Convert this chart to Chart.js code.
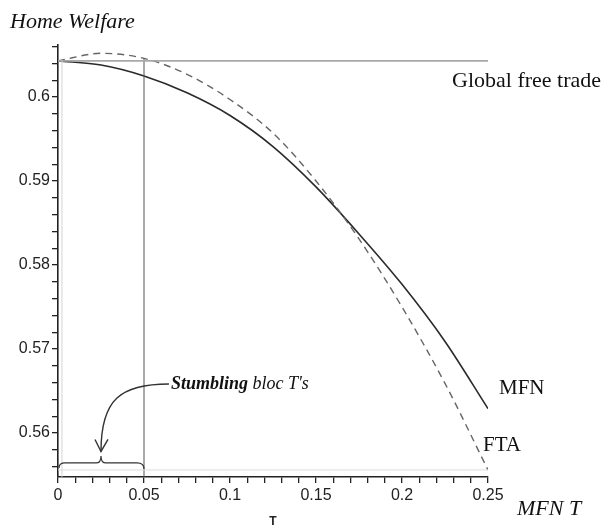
<!DOCTYPE html>
<html>
<head>
<meta charset="utf-8">
<script src="https://cdn.jsdelivr.net/npm/chart.js@4"></script>
<style>
  body { margin: 0; background: #fff; }
</style>
</head>
<body>
<canvas id="welfareChart" width="606" height="529"></canvas>
<script>
// data
const tValues     = [0, 0.025, 0.05, 0.075, 0.1, 0.125, 0.15, 0.175, 0.2, 0.225, 0.25];
const mfnWelfare  = [0.6043, 0.6038, 0.6025, 0.6005, 0.5978, 0.5941, 0.5893, 0.5837, 0.5777, 0.5709, 0.5629];
const ftaWelfare  = [0.6043, 0.6052, 0.6046, 0.6027, 0.5997, 0.5957, 0.5900, 0.5831, 0.5750, 0.5659, 0.5556];
const freeTradeWelfare = 0.6043;
const stumblingBound = 0.05;

const xTicks = [];
for (let i = 0; i <= 25; i++) xTicks.push(i / 100);
const yTicks = [];
for (let i = 278; i <= 303; i++) yTicks.push(i / 500);

const yMin = 0.55476, yMax = 0.60619;

function pts(xs, ys) {
    return xs.map((x, i) => ({x: x, y: ys[i]}));
}

// labels, brace and arrow
const notes = {
    id: 'notes',
    afterDraw(chart) {
        const c = chart.ctx;
        const xs = chart.scales.x, ys = chart.scales.y;
        c.save();
        c.fillStyle = '#111';
        c.font = 'italic 22px "Liberation Serif"';
        c.fillText('Home Welfare', 10, 28);
        c.font = '22px "Liberation Serif"';
        c.fillText('Global free trade', 452, 87);
        c.font = '21px "Liberation Serif"';
        c.fillText('MFN', 499, 394);
        c.fillText('FTA', 483, 451);
        c.font = 'italic 22px "Liberation Serif"';
        c.fillText('MFN T', 517, 515);

        // brace under the stumbling bloc range
        const x0 = xs.getPixelForValue(0);
        const x1 = xs.getPixelForValue(stumblingBound);
        const xm = (x0 + x1) / 2;
        const yb = ys.getPixelForValue(0.55643);
        c.strokeStyle = '#333';
        c.lineWidth = 1.2;
        c.beginPath();
        c.moveTo(x0 + 1, yb + 5);
        c.quadraticCurveTo(x0 + 1, yb, x0 + 7, yb);
        c.lineTo(xm - 5, yb);
        c.quadraticCurveTo(xm, yb, xm, yb - 7);
        c.quadraticCurveTo(xm, yb, xm + 5, yb);
        c.lineTo(x1 - 7, yb);
        c.quadraticCurveTo(x1, yb, x1, yb + 6);
        c.stroke();

        // arrow from the note down to the brace
        const ax = xs.getPixelForValue(0.0645), ay = ys.getPixelForValue(0.56583);
        const tx = xm, ty = ys.getPixelForValue(0.5578);
        c.lineWidth = 1.4;
        c.beginPath();
        c.moveTo(ax, ay);
        c.bezierCurveTo(ax - 48, ay, tx, ay + 15, tx, ty);
        c.stroke();
        c.beginPath();
        c.moveTo(tx - 6, ty - 12);
        c.lineTo(tx, ty);
        c.lineTo(tx + 7, ty - 12);
        c.stroke();

        c.font = 'italic bold 18px "Liberation Serif"';
        c.fillText('Stumbling', ax + 2, ay + 5);
        const w = c.measureText('Stumbling ').width;
        c.font = 'italic 18px "Liberation Serif"';
        c.fillText("bloc T's", ax + 2 + w, ay + 5);
        c.restore();
    }
};

const ctx = document.getElementById('welfareChart').getContext('2d');
const welfareChart = new Chart(ctx, {
    type: 'scatter',
    data: {
        datasets: [{
            label: 'frame',
            data: [{x: 0.0023, y: yMin}, {x: 0.0023, y: freeTradeWelfare}],
            borderColor: '#d4d4d4',
            borderWidth: 1
        }, {
            label: 'frame bottom',
            data: [{x: 0, y: 0.5556}, {x: 0.25, y: 0.5556}],
            borderColor: '#dcdcdc',
            borderWidth: 1
        }, {
            label: 'Global free trade',
            data: [{x: 0, y: freeTradeWelfare}, {x: 0.25, y: freeTradeWelfare}],
            borderColor: '#a8a8a8',
            borderWidth: 1.8
        }, {
            label: 'Stumbling bound',
            data: [{x: stumblingBound, y: yMin}, {x: stumblingBound, y: 0.6046}],
            borderColor: '#555',
            borderWidth: 1
        }, {
            label: 'FTA',
            data: pts(tValues, ftaWelfare),
            borderColor: '#666',
            borderWidth: 1.4,
            borderDash: [7, 5],
            cubicInterpolationMode: 'monotone'
        }, {
            label: 'MFN',
            data: pts(tValues, mfnWelfare),
            borderColor: '#2a2a2a',
            borderWidth: 1.6,
            cubicInterpolationMode: 'monotone'
        }]
    },
    options: {
        responsive: false,
        animation: false,
        showLine: true,
        elements: {
            point: { radius: 0, hoverRadius: 0 }
        },
        layout: {
            padding: { top: 45, right: 118, left: 0, bottom: 0 }
        },
        scales: {
            x: {
                min: 0,
                max: 0.25,
                afterBuildTicks: (axis) => { axis.ticks = xTicks.map(v => ({value: v})); },
                afterFit: (axis) => { axis.height = 52; },
                grid: {
                    drawOnChartArea: false,
                    drawTicks: true,
                    tickLength: 6,
                    color: '#222',
                    lineWidth: 1.3
                },
                border: { color: '#222', width: 1.6 },
                ticks: {
                    autoSkip: false,
                    maxRotation: 0,
                    padding: 3,
                    color: '#222',
                    font: { family: '"Liberation Sans"', size: 16 },
                    callback: (v) => {
                        const k = Math.round(v * 100);
                        return k % 5 === 0 ? String(k / 100) : '';
                    }
                },
                title: {
                    display: true,
                    text: 'T',
                    color: '#222',
                    font: { family: '"Liberation Sans"', size: 12, weight: 'bold' },
                    padding: { top: 0, bottom: 0 }
                }
            },
            y: {
                min: yMin,
                max: yMax,
                afterBuildTicks: (axis) => { axis.ticks = yTicks.map(v => ({value: v})); },
                afterFit: (axis) => { axis.width = 58; },
                grid: {
                    drawOnChartArea: false,
                    drawTicks: true,
                    tickLength: 6,
                    color: '#222',
                    lineWidth: 1.3
                },
                border: { color: '#222', width: 1.6 },
                ticks: {
                    autoSkip: false,
                    padding: 2,
                    color: '#222',
                    font: { family: '"Liberation Sans"', size: 16 },
                    callback: (v) => {
                        const k = Math.round(v * 500);
                        return k % 5 === 0 ? String(k / 500) : '';
                    }
                }
            }
        },
        plugins: {
            legend: { display: false },
            tooltip: { enabled: false }
        }
    },
    plugins: [notes]
});
</script>
</body>
</html>
